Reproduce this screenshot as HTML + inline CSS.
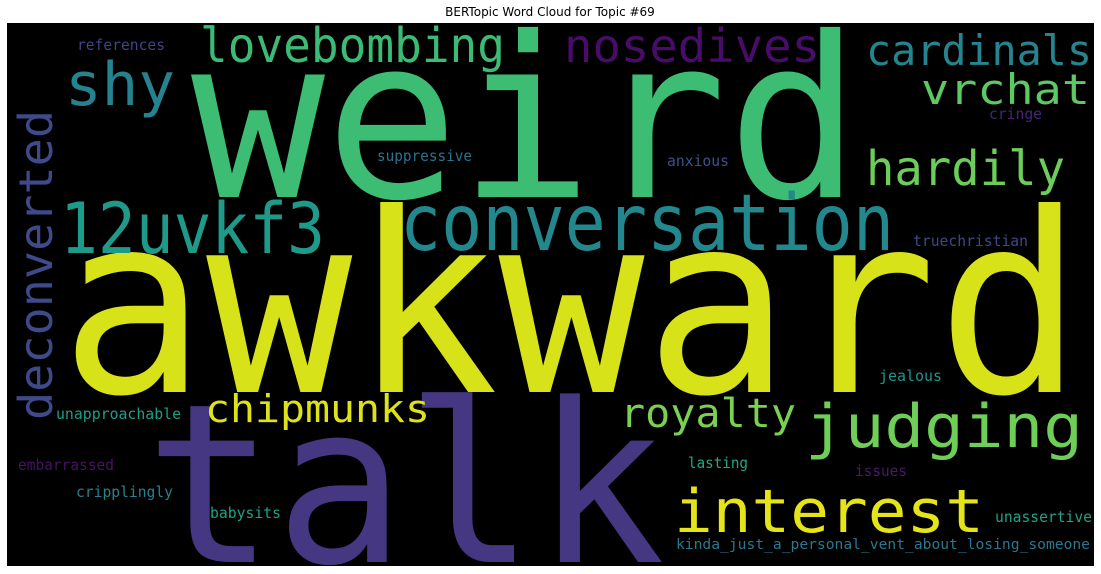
<!DOCTYPE html>
<html>
<head>
<meta charset="utf-8">
<style>
  html,body{margin:0;padding:0;background:#fff;overflow:hidden;}
  body{width:1101px;height:574px;overflow:hidden;}
  svg{display:block;}
  svg text.w{font-family:"DejaVu Sans Mono","Liberation Mono",monospace;}
</style>
</head>
<body>
<svg width="1101" height="574" viewBox="0 0 1101 574">
  <text x="550" y="16" text-anchor="middle" font-family="DejaVu Sans, Liberation Sans, sans-serif" font-size="12" fill="#000">BERTopic Word Cloud for Topic #69</text>
  <rect x="7" y="23" width="1087" height="543" fill="#000"/>
  <defs><clipPath id="clip"><rect x="7" y="23" width="1087" height="543"/></clipPath></defs>
  <g clip-path="url(#clip)">
    <text class="w" x="191" y="197" font-size="224" textLength="670" lengthAdjust="spacingAndGlyphs" fill="#3dbc74">weird</text>
    <text class="w" x="60" y="392" font-size="250" textLength="1023" lengthAdjust="spacingAndGlyphs" fill="#d8e219">awkward</text>
    <text class="w" x="145" y="562" font-size="222" textLength="520" lengthAdjust="spacingAndGlyphs" fill="#453781">talk</text>
    <text class="w" x="400" y="250" font-size="78" textLength="494" lengthAdjust="spacingAndGlyphs" fill="#23888e">conversation</text>
    <text class="w" x="60" y="253" font-size="70" textLength="265" lengthAdjust="spacingAndGlyphs" fill="#1f9a8a">12uvkf3</text>
    <text class="w" x="200" y="62" font-size="48" textLength="305" lengthAdjust="spacingAndGlyphs" fill="#3bbb75">lovebombing</text>
    <text class="w" x="65" y="105" font-size="60" textLength="110" lengthAdjust="spacingAndGlyphs" fill="#26828e">shy</text>
    <text class="w" x="564" y="62" font-size="46" textLength="256" lengthAdjust="spacingAndGlyphs" fill="#4a0c6b">nosedives</text>
    <text class="w" x="866" y="65" font-size="42" textLength="226" lengthAdjust="spacingAndGlyphs" fill="#25848e">cardinals</text>
    <text class="w" x="921" y="104" font-size="42" textLength="169" lengthAdjust="spacingAndGlyphs" fill="#5ec962">vrchat</text>
    <text class="w" x="989" y="119" font-size="15" textLength="53" lengthAdjust="spacingAndGlyphs" fill="#482475">cringe</text>
    <text class="w" x="866" y="185" font-size="48" textLength="199" lengthAdjust="spacingAndGlyphs" fill="#6ccd5a">hardily</text>
    <text class="w" x="667" y="166" font-size="15" textLength="62" lengthAdjust="spacingAndGlyphs" fill="#3b528b">anxious</text>
    <text class="w" x="377" y="161" font-size="15" textLength="95" lengthAdjust="spacingAndGlyphs" fill="#2c728e">suppressive</text>
    <text class="w" x="77" y="50" font-size="15" textLength="88" lengthAdjust="spacingAndGlyphs" fill="#414487">references</text>
    <text class="w" x="913" y="246" font-size="15" textLength="115" lengthAdjust="spacingAndGlyphs" fill="#3e4989">truechristian</text>
    <text class="w" x="205" y="422" font-size="38" textLength="225" lengthAdjust="spacingAndGlyphs" fill="#dde318">chipmunks</text>
    <text class="w" x="56" y="419" font-size="15" textLength="125" lengthAdjust="spacingAndGlyphs" fill="#1f9e89">unapproachable</text>
    <text class="w" x="620" y="427" font-size="40" textLength="176" lengthAdjust="spacingAndGlyphs" fill="#7ad151">royalty</text>
    <text class="w" x="805" y="447" font-size="60" textLength="278" lengthAdjust="spacingAndGlyphs" fill="#6ece58">judging</text>
    <text class="w" x="879" y="381" font-size="15" textLength="63" lengthAdjust="spacingAndGlyphs" fill="#1f968b">jealous</text>
    <text class="w" x="18" y="470" font-size="15" textLength="96" lengthAdjust="spacingAndGlyphs" fill="#471365">embarrassed</text>
    <text class="w" x="688" y="468" font-size="15" textLength="60" lengthAdjust="spacingAndGlyphs" fill="#22a884">lasting</text>
    <text class="w" x="855" y="476" font-size="15" textLength="52" lengthAdjust="spacingAndGlyphs" fill="#481a6c">issues</text>
    <text class="w" x="76" y="497" font-size="15" textLength="97" lengthAdjust="spacingAndGlyphs" fill="#26828e">cripplingly</text>
    <text class="w" x="674" y="532" font-size="60" textLength="310" lengthAdjust="spacingAndGlyphs" fill="#e5e419">interest</text>
    <text class="w" x="210" y="518" font-size="15" textLength="71" lengthAdjust="spacingAndGlyphs" fill="#1fa187">babysits</text>
    <text class="w" x="995" y="522" font-size="15" textLength="97" lengthAdjust="spacingAndGlyphs" fill="#20a386">unassertive</text>
    <text class="w" x="676" y="549" font-size="14" textLength="414" lengthAdjust="spacingAndGlyphs" fill="#2a788e">kinda_just_a_personal_vent_about_losing_someone</text>
    <text class="w" transform="translate(52,420) rotate(-90)" x="0" y="0" font-size="46" textLength="310" lengthAdjust="spacingAndGlyphs" fill="#3e4a89">deconverted</text>
  </g>
</svg>
</body>
</html>
